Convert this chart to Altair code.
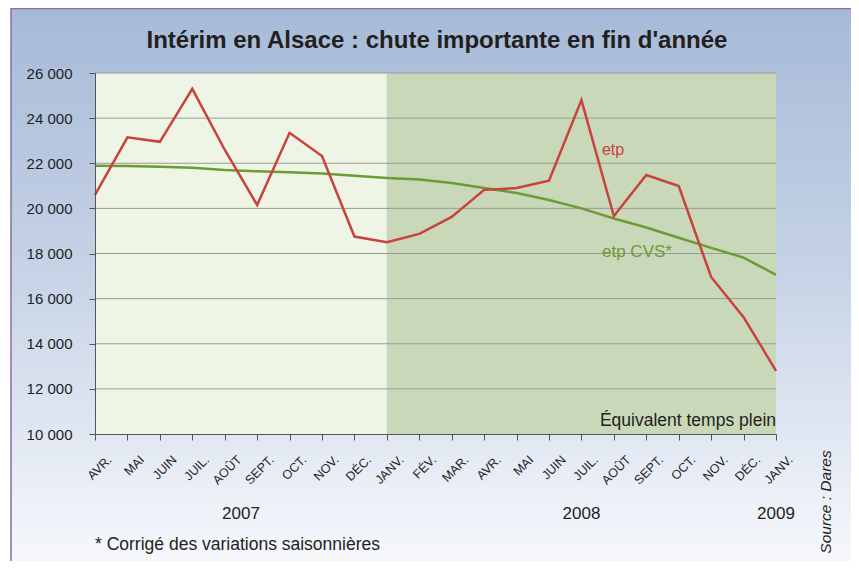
import altair as alt
import pandas as pd

# ---- data ----
months = ["AVR.", "MAI", "JUIN", "JUIL.", "AOÛT", "SEPT.", "OCT.", "NOV.", "DÉC.",
          "JANV.", "FÉV.", "MAR.", "AVR.", "MAI", "JUIN", "JUIL.", "AOÛT", "SEPT.",
          "OCT.", "NOV.", "DÉC.", "JANV."]
etp = [20600, 23150, 22950, 25300, 22600, 20150, 23350, 22320, 18750, 18500, 18870,
       19620, 20820, 20900, 21230, 24800, 19660, 21480, 20990, 16960, 15180, 12800]
etp_cvs = [21890, 21880, 21840, 21800, 21700, 21640, 21600, 21550, 21450, 21350, 21280,
           21120, 20900, 20680, 20370, 20000, 19550, 19150, 18700, 18250, 17820, 17050]
years = ["2007", "2008", "2009"]
year_pos = [4.5, 15, 21]
period_start = [0, 9]
period_end = [9, 21]
period_name = ["2007", "2008"]
y_ticks = list(range(10000, 26001, 2000))
grid_ticks = list(range(12000, 26001, 2000))

FONT = "Liberation Sans"
W, H = 681, 361
PAD_L, PAD_T, PAD_R, PAD_B = 87, 65, 75, 127

idx = list(range(len(months)))
df = pd.DataFrame({"i": idx, "mois": months, "etp": etp, "cvs": etp_cvs})
periods = pd.DataFrame({"x0": period_start, "x1": period_end, "p": period_name})
grid = pd.DataFrame({"v": grid_ticks})
yrs = pd.DataFrame({"label": years, "pos": year_pos})
one = pd.DataFrame({"a": [0]})

label_arr = "[" + ",".join("'" + m + "'" for m in months) + "]"

xscale = alt.Scale(domain=[0, 21], nice=False, zero=False)
yscale = alt.Scale(domain=[10000, 26000], nice=False, zero=False)

x_axis = alt.Axis(values=idx, labelExpr=label_arr + "[datum.value]", labelAngle=-45,
                  labelFontSize=12.5, labelFont=FONT, labelColor="#222222",
                  labelPadding=13, labelOffset=10, labelOverlap=False, labelBound=False,
                  tickSize=6, tickColor="#555555",
                  domainColor="#555555", grid=False, title=None, zindex=2)
y_axis = alt.Axis(values=y_ticks, labelExpr="replace(format(datum.value, ','), ',', ' ')",
                  labelFontSize=15, labelFont=FONT, labelColor="#222222",
                  labelPadding=17, tickSize=6, tickColor="#555555", domainColor="#555555",
                  grid=False, title=None, zindex=2)

bg = alt.Chart(one).mark_rect(
    fill=alt.LinearGradient(gradient="linear",
                            stops=[alt.GradientStop(color="#a6bad7", offset=0),
                                   alt.GradientStop(color="#c8d4e7", offset=0.5),
                                   alt.GradientStop(color="#f6f8fc", offset=1)],
                            x1=0, x2=0, y1=0, y2=1)
).encode(x=alt.value(-84), x2=alt.value(W + PAD_R), y=alt.value(-PAD_T), y2=alt.value(H + PAD_B))

border_l = alt.Chart(one).mark_rule(color="#8a6aa8", strokeWidth=1.5).encode(
    x=alt.value(-84), y=alt.value(-PAD_T), y2=alt.value(H + PAD_B))
border_t = alt.Chart(one).mark_rule(color="#8a6aa8", strokeWidth=1.5).encode(
    x=alt.value(-84), x2=alt.value(W + PAD_R), y=alt.value(-PAD_T + 0.5))

shade = alt.Chart(periods).mark_rect().encode(
    x=alt.X("x0:Q", scale=xscale, axis=x_axis),
    x2="x1:Q",
    y=alt.value(0), y2=alt.value(H),
    color=alt.Color("p:N", scale=alt.Scale(domain=period_name, range=["#eff5e5", "#c9d8b8"]),
                    legend=None),
)

grid_rules = alt.Chart(grid).mark_rule(color="#9a9a9a", strokeWidth=1).encode(
    y=alt.Y("v:Q", scale=yscale, axis=y_axis), x=alt.value(0), x2=alt.value(W))

line_cvs = alt.Chart(df).mark_line(color="#6e9a3a", strokeWidth=2.5).encode(
    x=alt.X("i:Q", scale=xscale, axis=x_axis), y=alt.Y("cvs:Q", scale=yscale, axis=y_axis))
line_etp = alt.Chart(df).mark_line(color="#c8433e", strokeWidth=2.5).encode(
    x=alt.X("i:Q", scale=xscale, axis=x_axis), y=alt.Y("etp:Q", scale=yscale, axis=y_axis))

def txt(text, x, y, size, **kw):
    return alt.Chart(one).mark_text(text=text, font=FONT, fontSize=size, **kw).encode(
        x=alt.value(x), y=alt.value(y))

title = txt("Intérim en Alsace : chute importante en fin d'année", 342, -32, 24,
            fontWeight="bold", color="#231f20", align="center", baseline="middle")
lab_etp = txt("etp", 518, 77, 16, color="#c8433e", align="center", baseline="middle")
lab_cvs = txt("etp CVS*", 507, 179, 17, color="#6e9a3a", align="left", baseline="middle")
lab_etp_tp = txt("Équivalent temps plein", W, 353, 17.5, color="#231f20", align="right",
                 baseline="alphabetic")
note = txt("* Corrigé des variations saisonnières", 0, 472, 17.5, color="#231f20",
           align="left", baseline="middle")
source = txt("Source : Dares", 731, 429, 15.5, color="#231f20", align="center",
             baseline="middle", angle=270, fontStyle="italic")

year_txt = alt.Chart(yrs).mark_text(font=FONT, fontSize=17, color="#231f20",
                                    baseline="middle").encode(
    x=alt.X("pos:Q", scale=xscale, axis=x_axis), y=alt.value(441), text="label:N")

chart = alt.layer(
    bg, border_l, border_t, shade, grid_rules, line_cvs, line_etp,
    title, lab_etp, lab_cvs, lab_etp_tp, note, source, year_txt
).properties(
    width=W, height=H,
    autosize=alt.AutoSizeParams(type="none"),
    padding={"left": PAD_L, "top": PAD_T, "right": PAD_R, "bottom": PAD_B},
    background="white",
).configure_view(stroke=None)

chart.save("out.html", embed_options={"renderer": "svg", "actions": False})
